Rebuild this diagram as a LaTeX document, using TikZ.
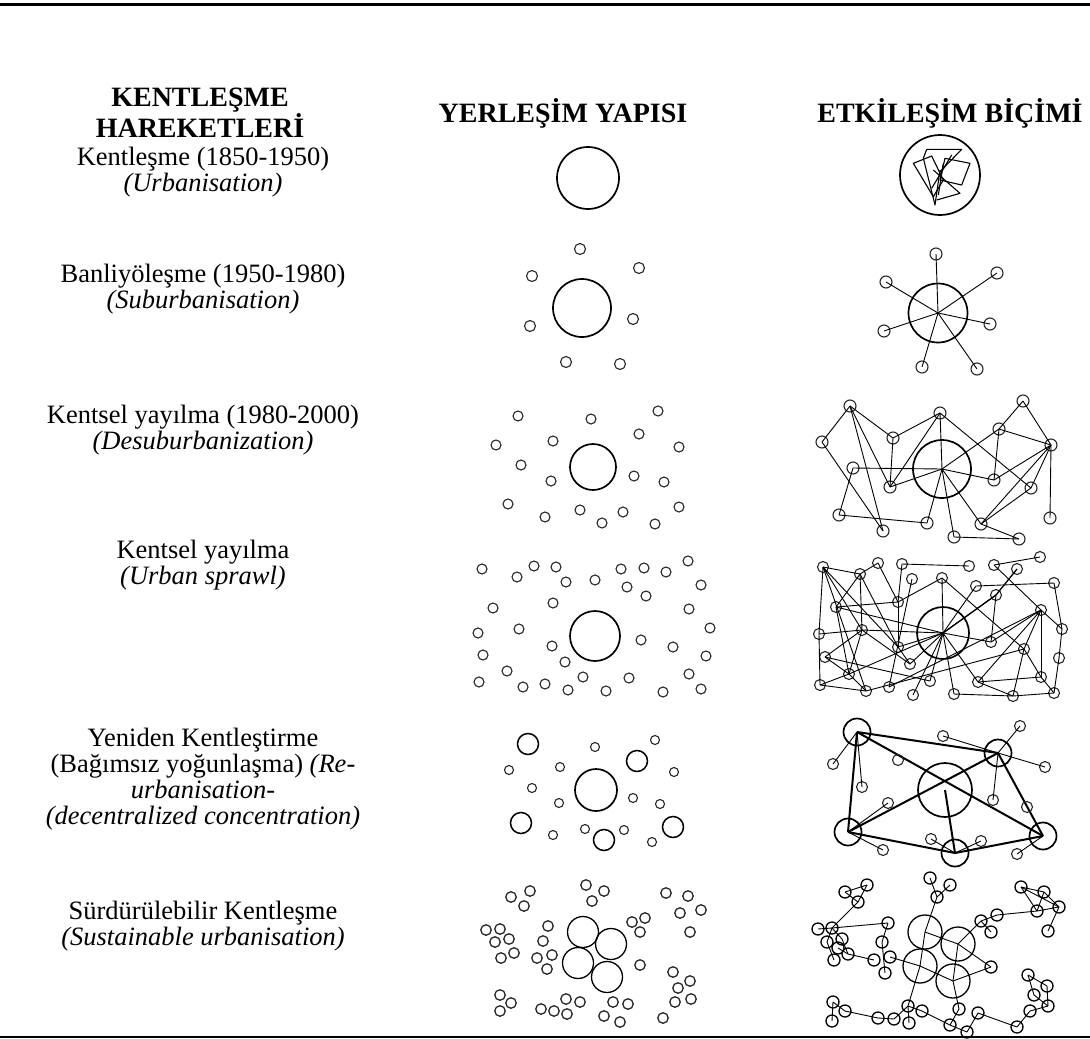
\documentclass[tikz,border=0pt]{standalone}
\usepackage{fontspec}
\setmainfont{Liberation Serif}
\newfontfamily\bodyfont{Liberation Serif}
\begin{document}
\begin{tikzpicture}[x=1pt,y=-1pt,
  bigc/.style={circle,draw,line width=1.7pt,inner sep=0pt,outer sep=0pt,minimum size=#1},
  smc/.style={circle,draw=black!85,line width=1.1pt,inner sep=0pt,outer sep=0pt,minimum size=#1},
  link/.style={line width=0.9pt},
  boldlink/.style={line width=2pt},
  lbl/.style={align=center,font=\bodyfont\fontsize{26.5}{25.8}\selectfont},
  hdr/.style={align=center,font=\bodyfont\bfseries\fontsize{28}{28}\selectfont}]
\useasboundingbox (0,0) rectangle (1090,1039);
\draw[line width=3pt] (0,4) -- (1090,4);
\draw[line width=1.5pt] (0,1037) -- (1090,1037);

% headings
\node[hdr] (hA) at (200,113) {KENTLEŞME\\HAREKETLERİ};
\node[hdr] (hB) at (563,113) {YERLEŞİM YAPISI};
\node[hdr] (hC) at (950,113) {ETKİLEŞİM BİÇİMİ};

% row labels
\node[lbl] (L1) at (203,172.5) {Kentleşme (1850-1950)\\\textit{(Urbanisation)}};
\node[lbl] (L2) at (203,289.5) {Banliyöleşme (1950-1980)\\\textit{(Suburbanisation)}};
\node[lbl] (L3) at (203,430) {Kentsel yayılma (1980-2000)\\\textit{(Desuburbanization)}};
\node[lbl] (L4) at (203,565.5) {Kentsel yayılma\\\textit{(Urban sprawl)}};
\node[lbl] (L5) at (203,779) {Yeniden Kentleştirme\\(Bağımsız yoğunlaşma) \textit{(Re-}\\\textit{urbanisation-}\\\textit{(decentralized concentration)}};
\node[lbl] (L6) at (203,926) {Sürdürülebilir Kentleşme\\\textit{(Sustainable urbanisation)}};

% ===== Row 1 =====
\node[bigc=62pt] (y1c) at (588,178) {};
\node[bigc=80pt] (e1c) at (940,175) {};
\begin{scope}[shift={(890,130)},x=0.3333pt,y=-0.3333pt,line width=1.1pt,line join=round]
\draw (110,58) -- (215,58) -- (150,125);
\draw (110,58) -- (100,85);
\draw (70,100) -- (125,78) -- (160,150) -- (130,200) -- cycle;
\draw (165,85) -- (240,100) -- (215,165) -- (150,150) -- cycle;
\draw (100,85) -- (135,225) -- (150,120);
\draw (130,120) -- (210,190) -- (140,210);
\draw (160,100) -- (145,195);
\draw (185,75) -- (125,175);
\end{scope}

% ===== Row 2 =====
\node[bigc=58pt] (y2c) at (582,308) {};
\foreach \x/\y [count=\i] in {580/249,639/268,532/276,530/326,633/319,566/362,620/364}
  \node[smc=11pt] (y2s\i) at (\x,\y) {};
\node[bigc=59pt] (e2h) at (938,313) {};
\foreach \x/\y [count=\i] in {936/254,997/273,886/282,990/324,884/331,922/367,977/369}{
  \node[smc=12pt] (e2s\i) at (\x,\y) {};
  \draw[link] (e2h.center) -- (e2s\i.center);}

% ===== Row 3 =====
\node[bigc=46pt] (y3c) at (593,467) {};
\foreach \x/\y [count=\i] in {518/416,591/419,658/411,496/445,553/441,639/434,679/447,521/465,551/481,634/476,664/482,508/504,545/517,580/510,602/523,623/512,655/524,679/507}
  \node[smc=10pt] (y3s\i) at (\x,\y) {};
\node[bigc=58pt] (e3h) at (942,469) {};
\foreach \n/\x/\y in {A/850/406,B/822/442,C/893/438,D/940/413,E/1023/401,F/999/429,G/1051/445,H/853/468,I/890/487,J/994/480,K/1031/488,L/839/515,M/883/531,N/927/523,O/954/537,P/981/524,Q/1019/539,R/1050/518}
  \node[smc=12pt] (e3\n) at (\x,\y) {};
\foreach \a/\b in {A/B,A/C,A/I,A/M,B/M,H/L,C/D,C/I,D/I,D/K,E/F,E/G,F/G,F/J,J/G,G/K,G/R,G/P,K/P,P/Q,O/Q,L/N}
  \draw[link] (e3\a.center) -- (e3\b.center);
\foreach \b in {D,H,I,F,J,N,O,P}
  \draw[link] (e3h.center) -- (e3\b.center);

% ===== Row 4 =====
\node[bigc=50pt] (y4c) at (595,636) {};
\foreach \x/\y [count=\i] in {482/569,517/577,534/566,556/567,566/582,595/580,621/569,644/568,666/572,688/561,627/587,646/596,701/585,493/608,553/603,689/609,478/633,519/629,710/628,641/640,673/647,483/655,552/646,565/662,706/656,507/671,479/682,523/687,545/684,568/690,583/677,606/691,629/678,663/692,689/674,701/689}
  \node[smc=10pt] (y4s\i) at (\x,\y) {};
\node[bigc=52pt] (e4h) at (943,633) {};
\foreach \n/\x/\y in {n1/823/567,n2/860/574,n3/878/563,n4/902/564,n5/912/579,n6/942/578,n7/836/607,n8/898/602,n9/819/634,n10/862/630,n11/898/647,n12/825/657,n13/910/664,n14/849/674,n15/930/681,n16/820/685,n17/866/691,n18/889/687,n19/913/695,m1/969/566,m3/994/565,m4/1017/569,m5/1040/557,m6/976/586,m7/996/595,m8/1054/583,m9/1041/610,m10/1062/629,m11/991/642,m12/1024/649,m13/1059/658,m14/978/682,m15/1041/677,m16/954/694,m17/1013/696,m18/1054/693}
  \node[smc=11pt] (e4\n) at (\x,\y) {};
\foreach \a/\b in {n1/n2,n1/n9,n9/n16,n1/n10,n1/n11,n2/n3,n2/n7,n2/n10,n2/n11,n3/n8,n4/n8,n4/m1,n6/n8,n7/n8,n9/n10,n10/n12,n10/n14,n10/n13,n8/n11,n11/n13,n12/n14,n14/n16,n14/n17,n5/n18,n16/n17,n12/n15,m3/m5,m3/m9,m6/m8,m7/m11,m9/m11,m9/m12,m9/m14,m9/m15,m9/m10,m8/m10,m10/m13,m13/m18,m12/m15,m12/m17,m14/m15,m14/m17,m16/m17,m17/m18,n17/m12,n18/m9,n6/m12,m15/m18,n7/n14,n1/n17}
  \draw[link] (e4\a.center) -- (e4\b.center);
\foreach \b in {n6,n7,n10,n11,n13,n14,n15,n19,m6,m7,m11,m14,m16}
  \draw[link] (e4h.center) -- (e4\b.center);
\draw[line width=1.3pt] (e4m7.center) -- (e4m4.center);
\draw[line width=1.3pt] (e4h.center) -- (e4m7.center);

% ===== Row 5 =====
\node[bigc=42pt] (y5c) at (596,790) {};
\foreach \x/\y [count=\i] in {528/744,637/761,521/823,604/840,673/827}
  \node[bigc=21pt,line width=1.5pt] (y5m\i) at (\x,\y) {};
\foreach \x/\y [count=\i] in {595/747,655/740,509/770,560/767,674/772,532/788,559/803,633/798,660/804,553/835,585/829,624/830,652/842}
  \node[smc=9pt] (y5s\i) at (\x,\y) {};
\node[bigc=54pt] (e5h) at (945,790) {};
\foreach \n/\x/\y in {1/857/732,2/998/753,3/848/832,4/955/853,5/1043/836}
  \node[bigc=27pt] (e5M\n) at (\x,\y) {};
\foreach \a/\b in {1/2,1/5,2/3,1/3,2/5,3/4,4/5}
  \draw[boldlink] (e5M\a.center) -- (e5M\b.center);
\draw[boldlink] (e5h.center) -- (e5M4.center);
\foreach \n/\x/\y/\p in {1/833/764/1,2/862/787/1,4/943/736/2,5/1020/726/2,6/1045/767/2,7/993/800/2,9/888/803/3,10/883/850/3,11/931/839/4,12/981/841/4,13/1017/854/5}{
  \node[smc=11pt] (e5s\n) at (\x,\y) {};
  \draw[link] (e5M\p.center) -- (e5s\n.center);}
\node[smc=11pt] (e5s3) at (898,760) {};
\node[smc=11pt] (e5s8) at (1027,807) {};

% ===== Row 6 =====
\foreach \x/\y [count=\i] in {583/932,611/944,578/963,607/977}
  \node[circle,draw,line width=1.3pt,inner sep=0pt,minimum size=31pt] (y6b\i) at (\x,\y) {};
\foreach \x/\y [count=\i] in {511/897,530/891,524/906,586/885,604/891,592/901,666/893,688/896,680/913,701/910,690/932,486/930,500/929,509/939,495/942,514/953,501/958,548/926,543/941,552/955,537/958,547/969,632/922,645/918,640/932,640/965,673/972,690/981,678/988,675/1002,691/999,500/995,511/1003,500/1011,541/1009,554/1011,566/999,580/1002,567/1014,613/1002,628/1004,604/1016,620/1022,663/1018}
  \node[smc=10.5pt,line width=1.3pt] (y6s\i) at (\x,\y) {};

\foreach \n/\x/\y in {B1/925/932,B2/958/944,B3/920/966,B4/953/981}
  \node[circle,draw,line width=1.3pt,inner sep=0pt,minimum size=34pt] (e6\n) at (\x,\y) {};
\foreach \n/\x/\y in {t1/845/892,t2/867/885,t3/858/902,l1/818/929,l2/832/928,l3/827/942,l4/842/939,l5/848/954,l6/834/960,l7/838/948,c1/888/923,c2/882/942,c3/874/960,c4/890/957,c5/885/973,u1/930/878,u2/950/885,u3/937/897,r1/1021/887,r2/1044/892,r3/1059/907,r4/1037/911,r5/1048/931,q1/981/921,q2/997/915,q3/991/932,w/991/967,b1/833/1002,b2/845/1011,b3/832/1021,b4/878/1018,b5/894/1019,b6/908/1006,b7/909/1023,b8/922/1011,b9/950/1025,b10/959/1009,b11/978/1013,b12/967/1032,k1/1028/975,k2/1047/986,k3/1034/995,k4/1048/1006,k5/1030/1011,k6/1017/1027}
  \node[smc=12pt,draw=black,line width=1.3pt] (e6\n) at (\x,\y) {};
\foreach \a/\b in {t1/t2,t1/t3,t2/t3,t3/l2,l2/l1,l2/c1,l2/l3,l2/l4,l3/l6,l4/l5,l7/l5,l5/c3,c1/c2,c2/c5,c4/B3,u1/u3,u2/u3,u3/B1,B1/B3,B3/b6,B1/B2,B2/q1,q1/q2,q1/q3,q2/r4,B2/B4,B4/b10,B2/w,B4/w,B3/B4,r1/r2,r1/r3,r1/r4,r2/r3,r4/r3,r3/r5,r2/r4,b1/b2,b1/b3,b2/b4,b4/b5,b5/b6,b6/b7,b6/b8,b8/b9,b9/b10,b9/b12,b11/b12,b11/k6,k1/k3,k1/k2,k2/k4,k3/k4,k4/k5,k5/k6}
  \draw[link] (e6\a.center) -- (e6\b.center);
\end{tikzpicture}
\end{document}
